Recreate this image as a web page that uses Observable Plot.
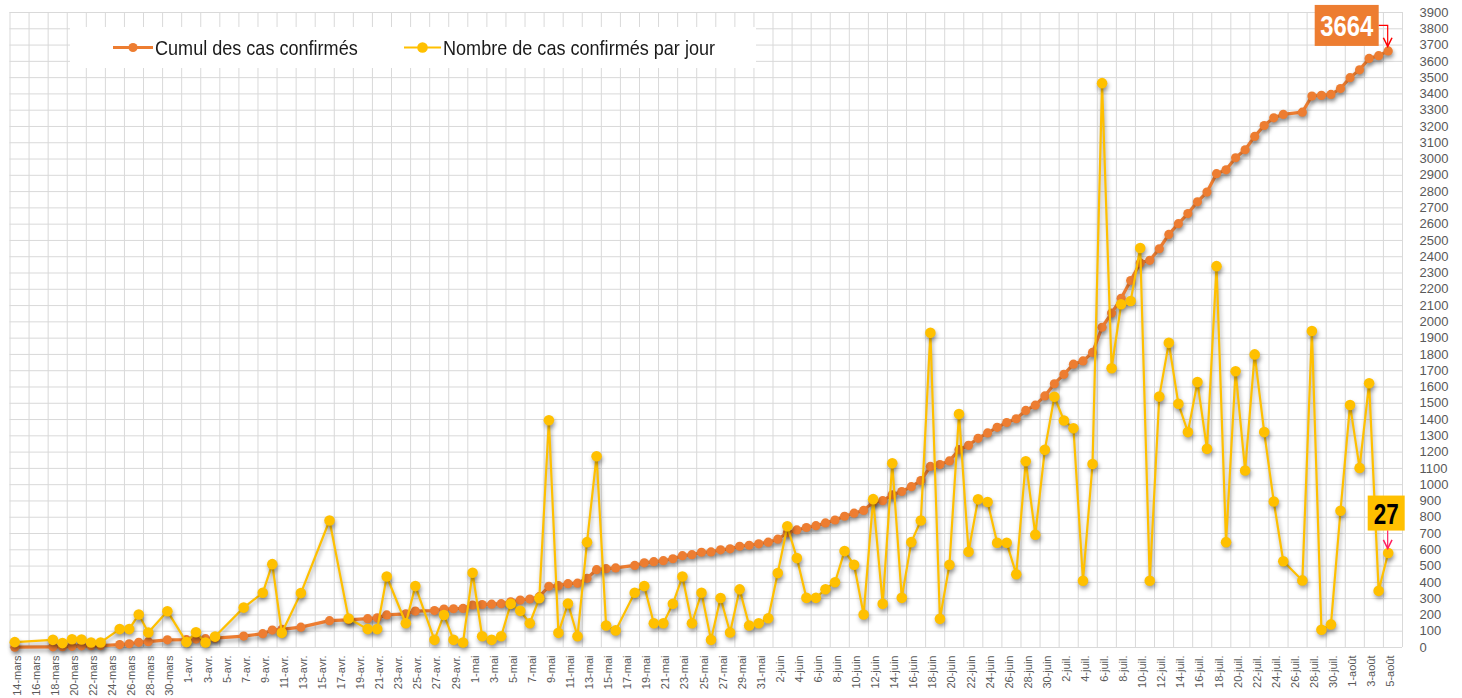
<!DOCTYPE html>
<html>
<head>
<meta charset="utf-8">
<script src="https://cdn.jsdelivr.net/npm/d3@7"></script>
<script src="https://cdn.jsdelivr.net/npm/@observablehq/plot@0.6"></script>
<style>
  html, body { margin: 0; padding: 0; background: #fff; }
  #wrap { position: relative; width: 1462px; height: 698px; overflow: hidden; }
  #legend { position: absolute; left: 70px; top: 27px; width: 686px; height: 41px; background: #fff;
            font-family: "Liberation Sans", Arial, sans-serif; font-size: 21px; color: #1a1a1a; }
  #legend .sym { position: absolute; top: 0; }
  #legend .lab { position: absolute; top: 0; line-height: 41px; white-space: nowrap; transform: scaleX(0.86); transform-origin: 0 50%; }
  svg g[aria-label="line"], svg g[aria-label="dot"] { filter: drop-shadow(1px 3px 2px rgba(0,0,0,0.35)); }
</style>
</head>
<body>
<div id="wrap"></div>
<script>
// ---- data ----
const dates = [
  "2020-03-14","2020-03-18","2020-03-19","2020-03-20","2020-03-21","2020-03-22","2020-03-23","2020-03-25","2020-03-26","2020-03-27","2020-03-28","2020-03-30",
  "2020-04-01","2020-04-02","2020-04-03","2020-04-04","2020-04-07","2020-04-09","2020-04-10","2020-04-11","2020-04-13","2020-04-16","2020-04-18","2020-04-20",
  "2020-04-21","2020-04-22","2020-04-24","2020-04-25","2020-04-27","2020-04-28","2020-04-29","2020-04-30",
  "2020-05-01","2020-05-02","2020-05-03","2020-05-04","2020-05-05","2020-05-06","2020-05-07","2020-05-08","2020-05-09","2020-05-10","2020-05-11","2020-05-12",
  "2020-05-13","2020-05-14","2020-05-15","2020-05-16","2020-05-18","2020-05-19","2020-05-20","2020-05-21","2020-05-22","2020-05-23","2020-05-24","2020-05-25",
  "2020-05-26","2020-05-27","2020-05-28","2020-05-29","2020-05-30","2020-05-31",
  "2020-06-01","2020-06-02","2020-06-03","2020-06-04","2020-06-05","2020-06-06","2020-06-07","2020-06-08","2020-06-09","2020-06-10","2020-06-11","2020-06-12",
  "2020-06-13","2020-06-14","2020-06-15","2020-06-16","2020-06-17","2020-06-18","2020-06-19","2020-06-20","2020-06-21","2020-06-22","2020-06-23","2020-06-24",
  "2020-06-25","2020-06-26","2020-06-27","2020-06-28","2020-06-29","2020-06-30",
  "2020-07-01","2020-07-02","2020-07-03","2020-07-04","2020-07-05","2020-07-06","2020-07-07","2020-07-08","2020-07-09","2020-07-10","2020-07-11","2020-07-12",
  "2020-07-13","2020-07-14","2020-07-15","2020-07-16","2020-07-17","2020-07-18","2020-07-19","2020-07-20","2020-07-21","2020-07-22","2020-07-23","2020-07-24",
  "2020-07-25","2020-07-27","2020-07-28","2020-07-29","2020-07-30","2020-07-31",
  "2020-08-01","2020-08-02","2020-08-03","2020-08-04","2020-08-05"
];
// Cumul des cas confirmés (primary axis)
const cumul = [
  2,4,5,7,10,11,12,18,23,32,36,47,
  48,52,54,57,70,85,107,111,125,165,170,177,
  182,200,207,224,227,236,238,240,
  261,264,266,269,281,291,298,312,376,380,392,395,
  425,478,484,489,504,520,527,533,545,564,570,585,
  587,600,606,622,628,637,
  647,665,705,722,737,748,765,783,806,825,842,893,
  902,938,958,988,1025,1112,1124,1146,1215,1242,1285,1318,
  1352,1382,1405,1456,1488,1545,
  1620,1678,1740,1760,1812,1967,2054,2145,2254,2362,2378,2449,
  2537,2603,2665,2737,2797,2910,2934,3008,3057,3139,3206,3253,
  3274,3288,3387,3391,3397,3433,
  3500,3548,3618,3635,3664
];
// Nombre de cas confirmés par jour (as drawn against the visible axis)
const daily = [
  33,47,27,51,49,31,31,113,113,203,92,223,
  33,94,31,67,245,336,512,90,334,780,178,113,
  113,436,149,377,47,200,47,31,
  459,69,47,69,268,225,149,303,1396,90,270,69,
  647,1175,135,105,336,377,149,149,268,436,149,336,
  47,304,92,357,135,149,
  180,457,745,549,305,305,358,401,592,508,203,911,
  268,1132,305,647,780,1933,176,508,1434,588,910,894,
  643,643,450,1144,693,1214,
  1540,1394,1347,410,1127,3466,1715,2108,2128,2454,410,1541,
  1871,1497,1323,1630,1220,2342,647,1697,1087,1800,1323,897,
  530,412,1944,109,142,840,
  1489,1103,1623,348,580
];
const seriesNames = ["Cumul des cas confirmés", "Nombre de cas confirmés par jour"];
const seriesColors = ["#ED7D31", "#FFC000"];
const monthLabels = ["janv.","févr.","mars","avr.","mai","juin","juil.","août","sept.","oct.","nov.","déc."];
const yTicks = d3.range(0, 4000, 100);
const lastLabels = ["3664", "27"];

// ---- build ----
const parse = d3.utcParse("%Y-%m-%d");
const rows = dates.map((d, i) => ({date: parse(d), cumul: cumul[i], daily: daily[i]}));
const DAY = 864e5;
const start = Date.UTC(2020, 2, 14);
const xDomain = [new Date(start - DAY / 2), new Date(start + 145 * DAY + DAY / 2)];
const gridX = d3.range(0, 147, 2).map(i => new Date(start - DAY / 2 + i * DAY));
const ticksX = d3.range(0, 145, 2).map(i => new Date(start + i * DAY));
const fmt = d => `${d.getUTCDate()}-${monthLabels[d.getUTCMonth()]}`;

const chart = Plot.plot({
  width: 1462, height: 698,
  marginLeft: 9.5, marginRight: 60, marginTop: 12, marginBottom: 51,
  x: {type: "utc", domain: xDomain},
  y: {domain: [0, 3900]},
  style: {fontFamily: "'Liberation Sans', Arial, sans-serif", background: "white", overflow: "visible"},
  marks: [
    Plot.ruleY(yTicks, {stroke: "#d9d9d9", strokeWidth: 1}),
    Plot.ruleX(gridX, {stroke: "#d9d9d9", strokeWidth: 1}),
    Plot.axisY({anchor: "right", ticks: yTicks, tickFormat: d3.format("d"), tickSize: 0, tickPadding: 17, textAnchor: "start",
                fontSize: 13, color: "#595959", label: null}),
    Plot.axisX({ticks: ticksX, tickFormat: fmt, tickRotate: -90, tickSize: 0, tickPadding: 8, dx: 2.5,
                fontSize: 11, color: "#595959", label: null}),
    Plot.line(rows, {x: "date", y: "cumul", stroke: seriesColors[0], strokeWidth: 3.2}),
    Plot.dot(rows, {x: "date", y: "cumul", fill: seriesColors[0], r: 4.6}),
    Plot.line(rows, {x: "date", y: "daily", stroke: seriesColors[1], strokeWidth: 2.2}),
    Plot.dot(rows, {x: "date", y: "daily", fill: seriesColors[1], r: 5.3})
  ]
});

const wrap = document.getElementById("wrap");
wrap.appendChild(chart);

// ---- annotations on the last points (positions from the plot's scales) ----
const sx = chart.scale("x"), sy = chart.scale("y");
const last = rows[rows.length - 1];
const px = sx.apply(last.date), pyC = sy.apply(last.cumul), pyD = sy.apply(last.daily);
const svg = d3.select(chart);
const defs = svg.append("defs");
function head(id, color) {
  defs.append("marker").attr("id", id).attr("viewBox", "0 0 10 10").attr("refX", 9).attr("refY", 5)
    .attr("markerWidth", 9).attr("markerHeight", 9).attr("orient", "auto-start-reverse")
    .append("path").attr("d", "M1,1 L9,5 L1,9").attr("fill", "none").attr("stroke", color).attr("stroke-width", 1.4);
}
head("ah1", "#ff0000"); head("ah2", "#ff2060");
const ann = svg.append("g").attr("font-family", "'Liberation Sans',Arial,sans-serif").attr("font-weight", "bold")
  .attr("text-anchor", "start");
// 3664
ann.append("rect").attr("x", px - 73).attr("y", pyC - 45.5).attr("width", 64).attr("height", 41).attr("fill", seriesColors[0]);
ann.append("text").attr("x", px - 67.5).attr("y", pyC - 25).attr("dy", "0.36em").attr("text-anchor", "start")
  .attr("textLength", 53).attr("lengthAdjust", "spacingAndGlyphs")
  .attr("fill", "#fff").attr("font-size", 29).text(lastLabels[0]);
ann.append("path").attr("d", `M${px - 9},${pyC - 25} H${px} V${pyC - 4}`).attr("fill", "none")
  .attr("stroke", "#ff0000").attr("stroke-width", 1.2).attr("marker-end", "url(#ah1)");
// 27
ann.append("rect").attr("x", px - 20).attr("y", pyD - 57).attr("width", 37).attr("height", 35).attr("fill", seriesColors[1]);
ann.append("text").attr("x", px - 14).attr("y", pyD - 39.5).attr("dy", "0.36em").attr("text-anchor", "start")
  .attr("textLength", 25).attr("lengthAdjust", "spacingAndGlyphs")
  .attr("fill", "#000").attr("font-size", 29).text(lastLabels[1]);
ann.append("path").attr("d", `M${px},${pyD - 22} V${pyD - 4}`).attr("fill", "none")
  .attr("stroke", "#ff2060").attr("stroke-width", 1.2).attr("marker-end", "url(#ah2)");

// ---- legend ----
const legend = document.createElement("div");
legend.id = "legend";
const items = [{sym: 43, lab: 85, w: 40}, {sym: 334, lab: 373, w: 37}];
items.forEach((it, i) => {
  const s = document.createElementNS("http://www.w3.org/2000/svg", "svg");
  s.setAttribute("class", "sym"); s.setAttribute("width", it.w); s.setAttribute("height", 41);
  s.style.left = it.sym + "px";
  s.innerHTML = `<line x1="0" x2="${it.w}" y1="20.5" y2="20.5" stroke="${seriesColors[i]}" stroke-width="${i ? 2.2 : 3.2}"/>` +
                `<circle cx="${it.w / 2}" cy="20.5" r="${i ? 5.3 : 4.6}" fill="${seriesColors[i]}"/>`;
  legend.appendChild(s);
  const t = document.createElement("span");
  t.className = "lab"; t.style.left = it.lab + "px"; t.textContent = seriesNames[i];
  legend.appendChild(t);
});
wrap.appendChild(legend);
</script>
</body>
</html>
